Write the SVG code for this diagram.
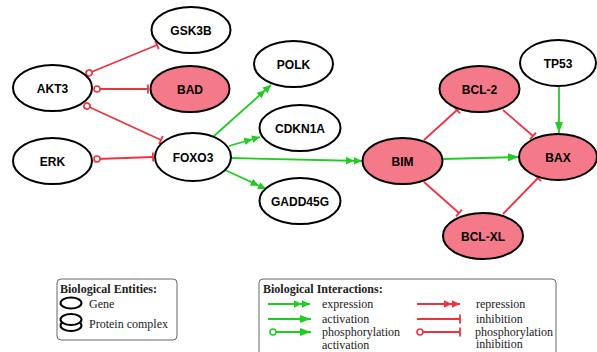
<svg xmlns="http://www.w3.org/2000/svg" width="597" height="352" viewBox="0 0 597 352">
<style>
.n ellipse{fill:#fff;stroke:#000;stroke-width:2}
.n.p ellipse{fill:#f47a8a}
.n text{font-family:"Liberation Sans",Arial,sans-serif;font-weight:bold;font-size:12px;text-anchor:middle;fill:#000}
.r{stroke:#ee3340;stroke-width:1.8;fill:none}
.g{stroke:#22cc22;stroke-width:1.8;fill:none}
.inh{marker-end:url(#barR)}
.ph{marker-start:url(#circR)}
.exp{marker-end:url(#dblG)}
.act{marker-end:url(#triG)}
.lg{font-family:"Liberation Serif","Times New Roman",serif;font-size:12px;fill:#222}
.lgt{font-family:"Liberation Serif","Times New Roman",serif;font-size:12px;font-weight:bold;fill:#222}
.box{fill:#fff;stroke:#666;stroke-width:1}
</style>
<defs>
<marker id="barR" markerUnits="userSpaceOnUse" markerWidth="6" markerHeight="12" viewBox="-3 -6 6 12" refX="0" refY="0" orient="auto"><line x1="0" y1="-4.5" x2="0" y2="4.5" stroke="#ee3340" stroke-width="1.8"/></marker>
<marker id="circR" markerUnits="userSpaceOnUse" markerWidth="10" markerHeight="10" viewBox="-5 -5 10 10" refX="0" refY="0" orient="auto"><circle cx="0" cy="0" r="3" fill="#fff" stroke="#ee3340" stroke-width="1.6"/></marker>
<marker id="circG" markerUnits="userSpaceOnUse" markerWidth="10" markerHeight="10" viewBox="-5 -5 10 10" refX="0" refY="0" orient="auto"><circle cx="0" cy="0" r="3" fill="#fff" stroke="#22cc22" stroke-width="1.6"/></marker>
<marker id="dblG" markerUnits="userSpaceOnUse" markerWidth="18" markerHeight="10" viewBox="0 -5 18 10" refX="16" refY="0" orient="auto"><path d="M0,-3.8 L8,0 L0,3.8 Z M8,-3.8 L16,0 L8,3.8 Z" fill="#22cc22"/></marker>
<marker id="dblR" markerUnits="userSpaceOnUse" markerWidth="18" markerHeight="10" viewBox="0 -5 18 10" refX="16" refY="0" orient="auto"><path d="M0,-3.8 L8,0 L0,3.8 Z M8,-3.8 L16,0 L8,3.8 Z" fill="#ee3340"/></marker>
<marker id="triG" markerUnits="userSpaceOnUse" markerWidth="12" markerHeight="10" viewBox="0 -5 12 10" refX="11" refY="0" orient="auto"><path d="M0,-4 L11,0 L0,4 Z" fill="#22cc22"/></marker>
</defs>
<g id="connectors">
<path class="r inh ph" d="M89,73 L157,45"/>
<path class="r inh ph" d="M97,89 L148,89"/>
<path class="r inh ph" d="M87,106 L161,140"/>
<path class="r inh ph" d="M97,159 L153,157"/>
<path class="g exp" d="M214,136 L271,85"/>
<path class="g exp" d="M229,146 L260,137"/>
<path class="g exp" d="M231,158 L362,161"/>
<path class="g exp" d="M225,170 L266,189"/>
<path class="r inh" d="M424,140 L457,110"/>
<path class="r inh" d="M503,110 L533,136"/>
<path class="r inh" d="M424,182 L459,213"/>
<path class="r inh" d="M503,214 L538,178"/>
<path class="g act" d="M443,159 L519,157"/>
<path class="g act" d="M559,87 L559,133"/>
</g>
<g id="GSK3B" class="n"><ellipse cx="191" cy="30" rx="39.5" ry="23"/><text x="191" y="34.5">GSK3B</text></g>
<g id="AKT3" class="n"><ellipse cx="52.5" cy="88" rx="39.5" ry="23"/><text x="52.5" y="92.5">AKT3</text></g>
<g id="BAD" class="n p"><ellipse cx="190" cy="89" rx="39.5" ry="23"/><text x="190" y="93.5">BAD</text></g>
<g id="ERK" class="n"><ellipse cx="52.5" cy="161" rx="39.5" ry="23"/><text x="52.5" y="165.5">ERK</text></g>
<g id="FOXO3" class="n"><ellipse cx="193" cy="157" rx="38" ry="24"/><text x="193" y="161.5">FOXO3</text></g>
<g id="POLK" class="n"><ellipse cx="293.5" cy="64" rx="39.5" ry="23"/><text x="293.5" y="68.5">POLK</text></g>
<g id="CDKN1A" class="n"><ellipse cx="300" cy="128" rx="40.5" ry="23"/><text x="300" y="132.5">CDKN1A</text></g>
<g id="GADD45G" class="n"><ellipse cx="300" cy="201" rx="40.5" ry="23"/><text x="300" y="205.5">GADD45G</text></g>
<g id="BIM" class="n p"><ellipse cx="402.5" cy="161" rx="40" ry="23"/><text x="402.5" y="165.5">BIM</text></g>
<g id="BCL-2" class="n p"><ellipse cx="479.5" cy="89" rx="40" ry="23"/><text x="479.5" y="93.5">BCL-2</text></g>
<g id="TP53" class="n"><ellipse cx="558" cy="63" rx="38" ry="23"/><text x="558" y="67.5">TP53</text></g>
<g id="BAX" class="n p"><ellipse cx="558" cy="157" rx="39" ry="23"/><text x="558" y="161.5">BAX</text></g>
<g id="BCL-XL" class="n p"><ellipse cx="483" cy="236" rx="40" ry="23"/><text x="483" y="240.5">BCL-XL</text></g>
<g id="legend-entities">
<rect class="box" x="57" y="279" width="120" height="61" rx="4"/>
<text class="lgt" x="60" y="293">Biological Entities:</text>
<ellipse cx="71" cy="303" rx="10.5" ry="5.5" fill="none" stroke="#000" stroke-width="2"/>
<text class="lg" x="89" y="308">Gene</text>
<ellipse cx="71" cy="325.5" rx="10.5" ry="5.5" fill="none" stroke="#000" stroke-width="2"/>
<ellipse cx="71" cy="319.5" rx="10.5" ry="5.5" fill="#fff" stroke="#000" stroke-width="2"/>
<text class="lg" x="89" y="328">Protein complex</text>
</g>
<g id="legend-interactions">
<rect class="box" x="259" y="279" width="297" height="90" rx="4"/>
<text class="lgt" x="263" y="293">Biological Interactions:</text>
<path class="g exp" d="M268,304 L310,304"/>
<text class="lg" x="322" y="308">expression</text>
<path class="g act" d="M268,319 L311,319"/>
<text class="lg" x="322" y="323">activation</text>
<path class="g act" d="M273,332 L311,332" marker-start="url(#circG)"/>
<text class="lg" x="322" y="336">phosphorylation</text>
<text class="lg" x="322" y="349">activation</text>
<path class="r" d="M417,304 L460,304" marker-end="url(#dblR)"/>
<text class="lg" x="476" y="308">repression</text>
<path class="r inh" d="M417,319 L460,319"/>
<text class="lg" x="476" y="322.5">inhibition</text>
<path class="r inh ph" d="M420,332 L460,332"/>
<text class="lg" x="475" y="335.5">phosphorylation</text>
<text class="lg" x="476" y="348">inhibition</text>
</g>
</svg>
